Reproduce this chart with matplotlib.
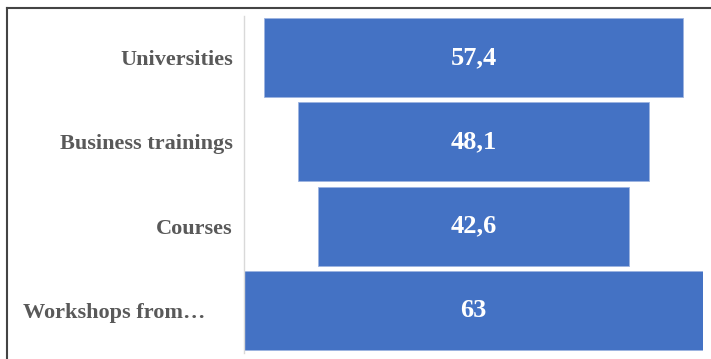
import matplotlib.pyplot as plt
from matplotlib.lines import Line2D
from matplotlib.transforms import ScaledTranslation

categories = ['Universities', 'Business trainings', 'Courses', 'Workshops from…']
values = [57.4, 48.1, 42.6, 63]
value_labels = ['57,4', '48,1', '42,6', '63']

plt.rcParams['font.family'] = ['Liberation Serif', 'DejaVu Serif']

fig = plt.figure(figsize=(7.11, 3.59), dpi=100)
ax = fig.add_axes([244 / 711, 1 - 352.5 / 359, (703 - 244) / 711, (352.5 - 15.5) / 359])

y = list(range(len(categories)))[::-1]
half = max(values) / 2

# funnel: each bar centred on zero
ax.barh(y, values, left=[-v / 2 for v in values], height=0.94,
        color='#4472C4', edgecolor='#9DB4E0', linewidth=0.6)
for yi, lab in zip(y, value_labels):
    ax.text(0, yi, lab, ha='center', va='center', color='white',
            fontsize=19, fontweight='bold')

ax.set_xlim(-half, half)
ax.set_ylim(-0.5, len(categories) - 0.5)
ax.set_yticks(y)
ax.set_yticklabels(categories, fontsize=16, fontweight='bold', color='#595959')
ax.tick_params(axis='y', length=0, pad=8)
# the truncated last label sits further left
last = ax.get_yticklabels()[-1]
last.set_transform(last.get_transform() + ScaledTranslation(-28 / 100, 0, fig.dpi_scale_trans))
ax.set_xticks([])
for side in ['top', 'right', 'bottom']:
    ax.spines[side].set_visible(False)
ax.spines['left'].set_color('#D9D9D9')
ax.spines['left'].set_linewidth(1)

# frame lines along the top and left edges
fig.add_artist(Line2D([7 / 711, 7 / 711], [0, 1 - 8 / 359], transform=fig.transFigure,
                      color='#444444', linewidth=1.5))
fig.add_artist(Line2D([7 / 711, 1], [1 - 8 / 359, 1 - 8 / 359], transform=fig.transFigure,
                      color='#444444', linewidth=1.5))

fig.savefig('out.png', dpi=100)
